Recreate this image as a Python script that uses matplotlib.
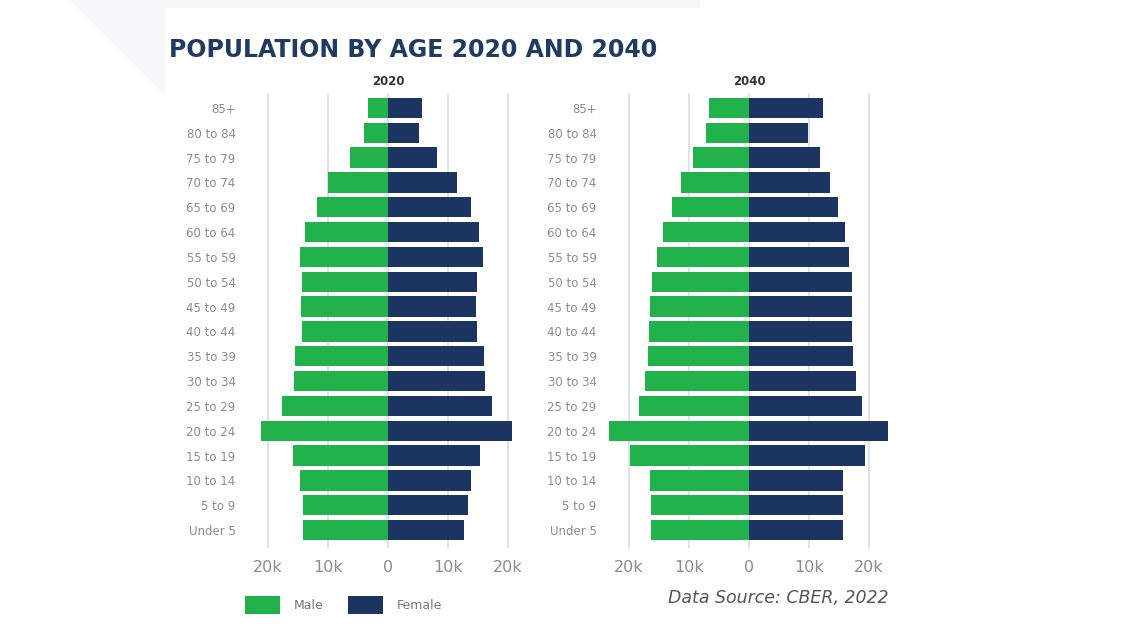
import matplotlib.pyplot as plt
from matplotlib.patches import Patch, Polygon

#----- data (thousands of people) -----
ages = ["Under 5", "5 to 9", "10 to 14", "15 to 19", "20 to 24", "25 to 29",
        "30 to 34", "35 to 39", "40 to 44", "45 to 49", "50 to 54", "55 to 59",
        "60 to 64", "65 to 69", "70 to 74", "75 to 79", "80 to 84", "85+"]

male_2020 = [14.1, 14.1, 14.6, 15.9, 21.2, 17.6, 15.7, 15.5, 14.4, 14.5, 14.3, 14.7,
             13.8, 11.8, 10.0, 6.4, 4.0, 3.3]
female_2020 = [12.7, 13.4, 13.8, 15.3, 20.7, 17.3, 16.1, 16.0, 14.8, 14.7, 14.9, 15.9,
               15.2, 13.9, 11.5, 8.1, 5.2, 5.7]

male_2040 = [16.3, 16.3, 16.5, 19.8, 23.4, 18.3, 17.4, 16.9, 16.6, 16.5, 16.1, 15.4,
             14.3, 12.9, 11.3, 9.4, 7.1, 6.7]
female_2040 = [15.7, 15.7, 15.7, 19.4, 23.1, 18.8, 17.8, 17.4, 17.2, 17.2, 17.2, 16.7,
               16.0, 14.9, 13.5, 11.8, 9.8, 12.4]

years = ["2020", "2040"]
tick_vals = [-20, -10, 0, 10, 20]
tick_labels = ["20k", "10k", "0", "10k", "20k"]

green = "#22b24c"
navy = "#1b3461"
grey_txt = "#8c8c8c"
font = "DejaVu Sans"

W, H = 1140, 641
fig = plt.figure(figsize=(W / 100, H / 100), dpi=100)
fig.patch.set_facecolor("white")

# faint background shape in the top-left corner
bg = Polygon([(70 / W, 1), (165 / W, 1 - 95 / H), (165 / W, 1 - 8 / H),
              (700 / W, 1 - 8 / H), (700 / W, 1)],
             closed=True, transform=fig.transFigure, facecolor="#f7f7f9",
             edgecolor="none", zorder=0)
fig.patches.append(bg)

fig.text(169 / W, 1 - 50 / H, "POPULATION BY AGE 2020 AND 2040", fontsize=17,
         fontweight="bold", color="#1f3a63", family=font, va="center", ha="left")

ax_w = 288 / W
ax_bottom = 1 - 548 / H
ax_h = (548 - 93) / H
lefts = [244 / W, 605 / W]
data = [(male_2020, female_2020), (male_2040, female_2040)]

y = list(range(len(ages)))
for i in range(2):
    ax = fig.add_axes([lefts[i], ax_bottom, ax_w, ax_h])
    m, f = data[i]
    ax.barh(y, [-v for v in m], height=0.82, color=green, zorder=3)
    ax.barh(y, f, height=0.82, color=navy, zorder=3)
    ax.set_xlim(-24, 24)
    ax.set_ylim(-0.72, len(ages) - 1 + 0.6)
    ax.set_xticks(tick_vals)
    ax.set_xticklabels(tick_labels, fontsize=11.5, color=grey_txt, family=font)
    ax.set_yticks(y)
    ax.set_yticklabels(ages, fontsize=8.5, color=grey_txt, family=font)
    ax.tick_params(length=0, pad=9)
    ax.tick_params(axis="y", pad=6)
    ax.grid(axis="x", color="#d6dae4", linewidth=1.1, zorder=0)
    for s in ax.spines.values():
        s.set_visible(False)
    ax.text(0, 1.025, years[i], transform=ax.get_xaxis_transform(), ha="center",
            va="center", fontsize=8.5, fontweight="bold", color="#333333", family=font)

handles = [Patch(facecolor=green, label="Male"), Patch(facecolor=navy, label="Female")]
fig.legend(handles=handles, loc="center left", bbox_to_anchor=(234 / W, 1 - 605 / H),
           ncol=2, frameon=False, handlelength=2.8, handleheight=1.8, columnspacing=1.9,
           handletextpad=1.1, prop={"family": font, "size": 9}, labelcolor="#777777")

fig.text(889 / W, 1 - 598 / H, "Data Source: CBER, 2022", fontsize=12.5, style="italic",
         color="#555555", family=font, ha="right", va="center")

plt.savefig("out.png", dpi=100, facecolor=fig.get_facecolor())
